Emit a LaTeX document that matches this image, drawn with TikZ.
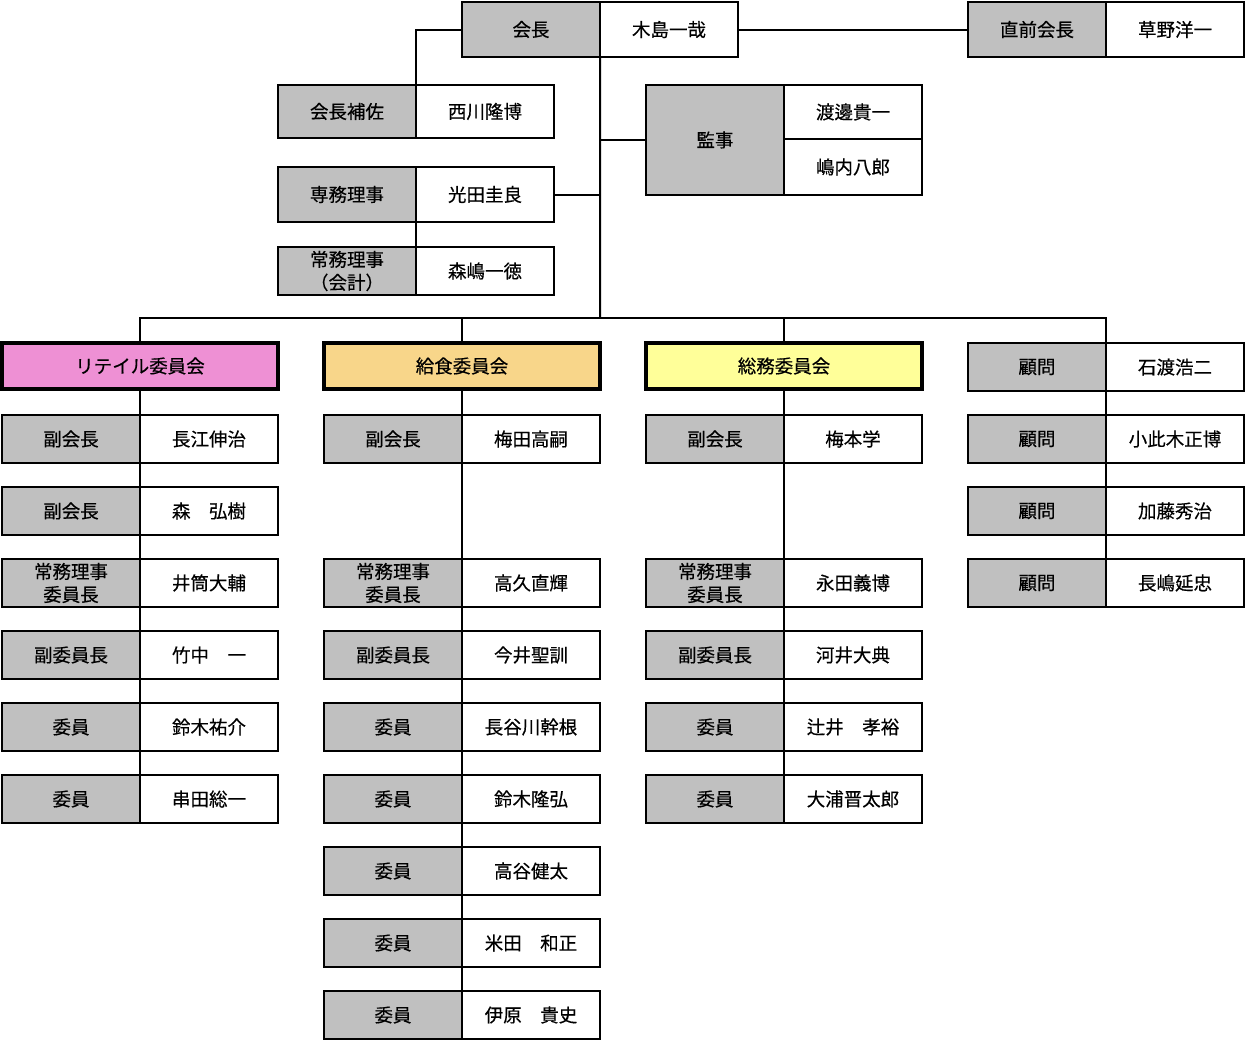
\documentclass[tikz,border=0pt]{standalone}
\usepackage{fontspec}
\setmainfont{Noto Sans CJK JP}[FakeBold=0.4]
\definecolor{rolegray}{HTML}{C0C0C0}
\definecolor{retailpink}{HTML}{EE90D4}
\definecolor{foodgold}{HTML}{F8D68A}
\definecolor{affairsyellow}{HTML}{FFFF99}
\newcommand\rolepair[6][48]{%
  \node[rolebox, minimum height=#1bp] (#2r) at (#3,#4) {#5};
  \node[personbox, minimum height=#1bp] (#2p) at (#3+138,#4) {#6};}
\begin{document}
\begin{tikzpicture}[x=1bp,y=-1bp,
  rolebox/.style={draw=black, line width=2bp, fill=rolegray, minimum width=138bp,
    minimum height=48bp, inner sep=0pt, outer sep=0pt, anchor=north west,
    font=\fontsize{18.5bp}{23bp}\selectfont, align=center},
  personbox/.style={rolebox, fill=white},
  headbox/.style={draw=black, line width=4bp, minimum width=276bp, minimum height=46bp,
    inner sep=0pt, outer sep=0pt, anchor=north west, font=\fontsize{18.5bp}{23bp}\selectfont},
  link/.style={draw=black, line width=2bp}]
\useasboundingbox (0,0) rectangle (1246,1040);

% top block
\rolepair[55]{kaicho}{462}{2}{会長}{木島一哉}
\rolepair[55]{zenkai}{968}{2}{直前会長}{草野洋一}
\rolepair[53]{hosa}{278}{85}{会長補佐}{西川隆博}
\rolepair[55]{senmu}{278}{167}{専務理事}{光田圭良}
\rolepair[48]{jomu}{278}{247}{常務理事\\（会計）}{森嶋一徳}
\node[rolebox, minimum height=110bp] (kanjir) at (646,85) {監事};
\node[personbox, minimum height=54bp] (kanjip1) at (784,85) {渡邊貴一};
\node[personbox, minimum height=56bp] (kanjip2) at (784,139) {嶋内八郎};

\coordinate (bus) at (600,318);

% committee heads
\node[headbox, fill=retailpink] (retail) at (2,343) {リテイル委員会};
\node[headbox, fill=foodgold] (food) at (324,343) {給食委員会};
\node[headbox, fill=affairsyellow] (affairs) at (646,343) {総務委員会};

% retail column
\rolepair{ra}{2}{415}{副会長}{長江伸治}
\rolepair{rb}{2}{487}{副会長}{森　弘樹}
\rolepair{rc}{2}{559}{常務理事\\委員長}{井筒大輔}
\rolepair{rd}{2}{631}{副委員長}{竹中　一}
\rolepair{re}{2}{703}{委員}{鈴木祐介}
\rolepair{rf}{2}{775}{委員}{串田総一}

% food column
\rolepair{fa}{324}{415}{副会長}{梅田高嗣}
\rolepair{fc}{324}{559}{常務理事\\委員長}{高久直輝}
\rolepair{fd}{324}{631}{副委員長}{今井聖訓}
\rolepair{fe}{324}{703}{委員}{長谷川幹根}
\rolepair{ff}{324}{775}{委員}{鈴木隆弘}
\rolepair{fg}{324}{847}{委員}{高谷健太}
\rolepair{fh}{324}{919}{委員}{米田　和正}
\rolepair{fi}{324}{991}{委員}{伊原　貴史}

% affairs column
\rolepair{aa}{646}{415}{副会長}{梅本学}
\rolepair{ac}{646}{559}{常務理事\\委員長}{永田義博}
\rolepair{ad}{646}{631}{副委員長}{河井大典}
\rolepair{ae}{646}{703}{委員}{辻井　孝裕}
\rolepair{af}{646}{775}{委員}{大浦晋太郎}

% advisers
\rolepair{ka}{968}{343}{顧問}{石渡浩二}
\rolepair{kb}{968}{415}{顧問}{小此木正博}
\rolepair{kc}{968}{487}{顧問}{加藤秀治}
\rolepair{kd}{968}{559}{顧問}{長嶋延忠}

% connectors
\path[link] (kaichor.west) -| (hosar.north east);
\path[link] (kaichop.east) -- (zenkair.west);
\path[link] (kaichor.south east) -- (bus);
\path[link] (kanjir.west) -- (kanjir.west -| bus);
\path[link] (senmup.east) -- (senmup.east -| bus);
\path[link] (senmur.south east) -- (jomur.north east);
\path[link] (retail.north) |- (bus) -| (kar.north east);
\path[link] (food.north) -- (food.north |- bus);
\path[link] (affairs.north) -- (affairs.north |- bus);
\path[link] (retail.south) -- (rar.north east);
\path[link] (rar.south east) -- (rfr.north east);
\path[link] (food.south) -- (far.north east);
\path[link] (far.south east) -- (fir.north east);
\path[link] (affairs.south) -- (aar.north east);
\path[link] (aar.south east) -- (afr.north east);
\path[link] (kar.south east) -- (kdr.north east);
\end{tikzpicture}
\end{document}
